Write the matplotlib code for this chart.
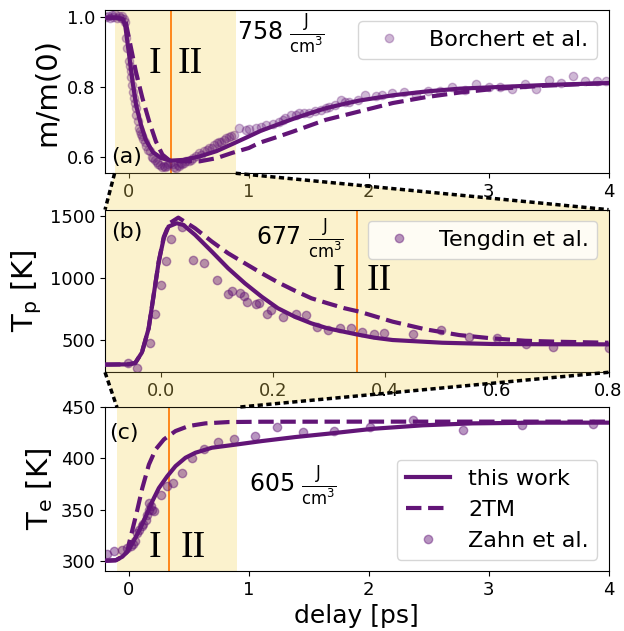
# Drei gekoppelte Panels: Magnetisierung, Phononen- und Elektronentemperatur
# gegen die Verzögerung, mit Zoom-Trichter vom oberen ins mittlere Panel.

import matplotlib
matplotlib.use("Agg")
import matplotlib.pyplot as plt  # noqa: E402
from matplotlib.lines import Line2D  # noqa: E402
from matplotlib.patches import Polygon  # noqa: E402
from matplotlib.transforms import blended_transform_factory  # noqa: E402


# region daten
# (a) m/m(0), Borchert et al.
t_borchert = [-0.19, -0.175, -0.16, -0.145, -0.13, -0.115, -0.1, -0.085, -0.07,
              -0.055, -0.04, -0.03, -0.027, -0.013, 0.001, 0.005, 0.015, 0.02,
              0.029, 0.035, 0.043, 0.05, 0.057, 0.062, 0.073, 0.084, 0.09, 0.1,
              0.11, 0.12, 0.13, 0.145, 0.16, 0.173, 0.19, 0.2, 0.218, 0.23,
              0.246, 0.26, 0.273, 0.29, 0.301, 0.315, 0.329, 0.345, 0.363, 0.375,
              0.39, 0.405, 0.418, 0.43, 0.446, 0.46, 0.479, 0.5, 0.515, 0.53,
              0.557, 0.586, 0.6, 0.627, 0.65, 0.669, 0.69, 0.711, 0.73, 0.753,
              0.77, 0.794, 0.81, 0.836, 0.85, 0.88, 0.92, 0.975, 1.0, 1.059, 1.1,
              1.142, 1.198, 1.25, 1.282, 1.3, 1.352, 1.39, 1.421, 1.46, 1.505,
              1.55, 1.602, 1.64, 1.672, 1.72, 1.769, 1.8, 1.839, 1.908, 1.972,
              2.062, 2.112, 2.195, 2.298, 2.396, 2.493, 2.591, 2.697, 2.8, 2.897,
              3.003, 3.098, 3.198, 3.301, 3.398, 3.504, 3.607, 3.704, 3.802, 3.9,
              3.983]
m_borchert = [1.0, 1.004, 0.998, 1.006, 1.0, 1.008, 0.997, 1.004, 0.998,
              1.003, 0.993, 0.985, 0.94, 0.912, 0.874, 0.86, 0.845, 0.83,
              0.807, 0.786, 0.769, 0.755, 0.741, 0.722, 0.703, 0.684, 0.675, 0.667,
              0.66, 0.653, 0.645, 0.634, 0.622, 0.617, 0.602, 0.598, 0.593, 0.588,
              0.581, 0.578, 0.573, 0.575, 0.572, 0.577, 0.581, 0.585, 0.58, 0.574,
              0.57, 0.578, 0.575, 0.583, 0.581, 0.585, 0.589, 0.59, 0.593, 0.598,
              0.603, 0.613, 0.606, 0.617, 0.62, 0.628, 0.627, 0.636, 0.64, 0.644,
              0.645, 0.65, 0.655, 0.657, 0.66, 0.663, 0.685, 0.679, 0.68, 0.684, 0.688,
              0.693, 0.696, 0.702, 0.707, 0.712, 0.722, 0.72, 0.728, 0.726, 0.728,
              0.733, 0.736, 0.742, 0.745, 0.75, 0.764, 0.757, 0.757, 0.764, 0.779,
              0.774, 0.777, 0.783, 0.785, 0.779, 0.788, 0.788, 0.802, 0.793, 0.81,
              0.8, 0.8, 0.795, 0.81, 0.795, 0.821, 0.812, 0.831, 0.817, 0.817,
              0.817]

t_fit_a = [-0.2, -0.1, -0.05, -0.03, 0.0, 0.03, 0.06, 0.1, 0.14, 0.2, 0.27, 0.35,
           0.45, 0.59, 0.73, 0.86, 1.0, 1.1, 1.25, 1.37, 1.5, 1.64, 1.8, 1.92,
           2.2, 2.48, 2.76, 3.04, 3.45, 4.0]
m_fit_a = [0.998, 0.998, 0.994, 0.972, 0.895, 0.815, 0.748, 0.693, 0.65, 0.615,
           0.598, 0.591, 0.593, 0.603, 0.618, 0.638, 0.66, 0.676, 0.695, 0.71,
           0.725, 0.74, 0.753, 0.762, 0.777, 0.788, 0.796, 0.8, 0.806, 0.812]

t_2tm_a = [-0.2, -0.1, -0.03, 0.0, 0.057, 0.112, 0.168, 0.224, 0.279, 0.34, 0.45,
           0.59, 0.73, 0.86, 1.0, 1.09, 1.25, 1.37, 1.64, 1.92, 2.2, 2.48, 2.76,
           3.04, 3.45, 4.0]
m_2tm_a = [0.998, 0.998, 0.99, 0.94, 0.845, 0.769, 0.703, 0.646, 0.608, 0.591,
           0.589, 0.589, 0.598, 0.613, 0.627, 0.642, 0.66, 0.674, 0.707, 0.731,
           0.755, 0.772, 0.785, 0.795, 0.804, 0.812]

# (b) T_p, Tengdin et al.
t_tengdin = [-0.059, -0.042, -0.019, -0.011, 0.0005, 0.009, 0.018, 0.038, 0.058,
             0.077, 0.1, 0.119, 0.127, 0.141, 0.148, 0.154, 0.17, 0.176, 0.189,
             0.196, 0.219, 0.241, 0.259, 0.279, 0.298, 0.32, 0.339, 0.359, 0.38,
             0.399, 0.45, 0.5, 0.55, 0.6, 0.652, 0.7, 0.8]
tp_tengdin = [317, 277, 478, 710, 943, 1137, 1317, 1409, 1143,
              1121, 981, 871, 898, 879, 855, 806, 790, 796, 712,
              742, 688, 712, 699, 605, 583, 599, 599, 565, 548,
              560, 547, 577, 527, 513, 468, 446, 433]

t_fit_b = [-0.1, -0.058, -0.046, -0.034, -0.022, -0.013, -0.004, 0.005, 0.0135,
           0.028, 0.04, 0.061, 0.091, 0.12, 0.15, 0.18, 0.209, 0.239, 0.269,
           0.298, 0.349, 0.381, 0.414, 0.503, 0.592, 0.68, 0.8]
tp_fit_b = [302, 304, 315, 400, 594, 863, 1131, 1320, 1414,
            1441, 1427, 1347, 1212, 1078, 957, 849, 756, 688, 634,
            594, 546, 519, 500, 478, 468, 466, 465]

t_2tm_b = [-0.1, -0.058, -0.046, -0.034, -0.022, -0.013, -0.004, 0.005, 0.015,
           0.031, 0.061, 0.091, 0.12, 0.15, 0.18, 0.209, 0.239, 0.269, 0.298,
           0.328, 0.355, 0.414, 0.473, 0.533, 0.592, 0.651, 0.711, 0.8]
tp_2tm_b = [302, 304, 315, 400, 594, 863, 1131, 1330, 1440,
            1486, 1400, 1293, 1199, 1118, 1038, 965, 898, 836, 796,
            756, 728, 648, 586, 540, 513, 494, 486, 478]

# (c) T_e, Zahn et al.
t_zahn = [-0.18, -0.124, -0.055, -0.02, 0.014, 0.03, 0.05, 0.07, 0.08, 0.111,
          0.12, 0.139, 0.15, 0.166, 0.17, 0.18, 0.19, 0.208, 0.263, 0.313, 0.369,
          0.443, 0.526, 0.623, 0.742, 0.88, 1.047, 1.232, 1.453, 1.711, 2.013,
          2.373, 2.788, 3.281, 3.868]
te_zahn = [306.9, 309.1, 310.8, 312, 314, 316, 318.9, 327.2, 330, 333.7,
           336, 340.2, 345, 350, 356, 353.9, 350, 348.4, 364.7, 373.5, 376.2,
           386, 400, 409.5, 416, 419.3, 421.9, 431, 426.2, 426.8, 431,
           437.5, 427.7, 432.3, 433.3]

t_fit_c = [-0.2, -0.11, -0.055, -0.013, 0.028, 0.083, 0.139, 0.194, 0.249, 0.319,
           0.388, 0.471, 0.554, 0.692, 0.9, 1.108, 1.385, 1.661, 2.035, 2.45,
           2.865, 3.42, 4.0]
te_fit_c = [300, 300.5, 304, 309, 317, 329, 343, 358, 371, 382.6,
            392.5, 400.7, 405.6, 410.5, 413.7, 417, 420.9, 424.2, 429, 432.4,
            434.3, 435, 435]

t_2tm_c = [-0.2, -0.11, -0.055, -0.013, 0.0, 0.028, 0.07, 0.111, 0.166, 0.222,
           0.291, 0.388, 0.498, 0.637, 0.831, 1.108, 2.0, 3.0, 4.0]
te_2tm_c = [300, 300.5, 304, 309, 317, 330, 350, 371, 394, 408.8,
            418.6, 426.8, 431.7, 434.3, 435.6, 435.9, 436, 436, 436]
# endregion


LILA = "#621577"
GELB = "#f5d55a"
GELB_ALPHA = 0.3
ORANGE = "tab:orange"

fig = plt.figure(figsize=(6.24, 6.31), dpi=100)
ax_a = fig.add_axes([0.1683, 0.7254, 0.8069, 0.2588])
ax_b = fig.add_axes([0.1683, 0.4100, 0.8069, 0.2577])
ax_c = fig.add_axes([0.1683, 0.0951, 0.8069, 0.2594])

span_a = (-0.12, 0.89)
span_c = (-0.10, 0.90)
grenze = {"a": 0.35, "b": 0.35, "c": 0.33}


def roemisch(ax, x1, x2, y):
    ax.text(x1, y, "I", fontsize=27, family="Liberation Serif",
            ha="center", va="center")
    ax.text(x2, y, "II", fontsize=27, family="Liberation Serif",
            ha="center", va="center")


# region panel a
ax = ax_a
ax.axvspan(*span_a, color=GELB, alpha=GELB_ALPHA, lw=0, zorder=0)
ax.axvline(grenze["a"], color=ORANGE, lw=1.3, zorder=1)
pkt_a, = ax.plot(t_borchert, m_borchert, "o", color=LILA, alpha=0.3, ms=6,
                 label="Borchert et al.", zorder=2)
ax.plot(t_fit_a, m_fit_a, "-", color=LILA, lw=3, zorder=3)
ax.plot(t_2tm_a, m_2tm_a, "--", color=LILA, lw=3, zorder=3)
roemisch(ax, 0.22, 0.51, 0.867)
ax.text(0.9, 0.955, r"758 $\frac{\mathrm{J}}{\mathrm{cm}^3}$", fontsize=17,
        ha="left", va="center")
ax.text(0.012, 0.1, "(a)", transform=ax.transAxes, fontsize=16,
        ha="left", va="center")
ax.set_xlim(-0.2, 4)
ax.set_ylim(0.555, 1.02)
ax.set_xticks([0, 1, 2, 3, 4])
ax.set_yticks([0.6, 0.8, 1.0])
ax.set_ylabel("m/m(0)", fontsize=21)
ax.legend(handles=[pkt_a], loc="upper right", fontsize=16)
# endregion

# region panel b
ax = ax_b
ax.axvspan(-0.1, 0.8, color=GELB, alpha=GELB_ALPHA, lw=0, zorder=0)
ax.axvline(grenze["b"], color=ORANGE, lw=1.3, zorder=1)
pkt_b, = ax.plot(t_tengdin, tp_tengdin, "o", color=LILA, alpha=0.45, ms=6,
                 label="Tengdin et al.", zorder=2)
ax.plot(t_fit_b, tp_fit_b, "-", color=LILA, lw=3, zorder=3)
ax.plot(t_2tm_b, tp_2tm_b, "--", color=LILA, lw=3, zorder=3)
roemisch(ax, 0.319, 0.39, 980)
ax.text(0.17, 1325, r"677 $\frac{\mathrm{J}}{\mathrm{cm}^3}$", fontsize=17,
        ha="left", va="center")
ax.text(0.012, 0.86, "(b)", transform=ax.transAxes, fontsize=16,
        ha="left", va="center")
ax.set_xlim(-0.1, 0.8)
ax.set_ylim(240, 1550)
ax.set_xticks([0.0, 0.2, 0.4, 0.6, 0.8])
ax.set_yticks([500, 1000, 1500])
ax.set_ylabel(r"T$_\mathrm{p}$ [K]", fontsize=21)
ax.legend(handles=[pkt_b], loc="upper right", fontsize=16)
# endregion

# region panel c
ax = ax_c
ax.axvspan(*span_c, color=GELB, alpha=GELB_ALPHA, lw=0, zorder=0)
ax.axvline(grenze["c"], color=ORANGE, lw=1.3, zorder=1)
pkt_c, = ax.plot(t_zahn, te_zahn, "o", color=LILA, alpha=0.45, ms=6,
                 label="Zahn et al.", zorder=2)
lin_fit, = ax.plot(t_fit_c, te_fit_c, "-", color=LILA, lw=3, zorder=3,
                   label="this work")
lin_2tm, = ax.plot(t_2tm_c, te_2tm_c, "--", color=LILA, lw=3, zorder=3,
                   label="2TM")
roemisch(ax, 0.216, 0.54, 313)
ax.text(1.0, 374.5, r"605 $\frac{\mathrm{J}}{\mathrm{cm}^3}$", fontsize=17,
        ha="left", va="center")
ax.text(0.008, 0.84, "(c)", transform=ax.transAxes, fontsize=16,
        ha="left", va="center")
ax.set_xlim(-0.2, 4)
ax.set_ylim(290, 450)
ax.set_xticks([0, 1, 2, 3, 4])
ax.set_yticks([300, 350, 400, 450])
ax.set_ylabel(r"T$_\mathrm{e}$ [K]", fontsize=21)
ax.set_xlabel("delay [ps]", fontsize=18)
ax.legend(handles=[lin_fit, lin_2tm, pkt_c], loc="lower right", fontsize=16)
# endregion

for a in (ax_a, ax_b, ax_c):
    a.tick_params(labelsize=13)


# region zoom-trichter
def fig_punkt(ax, x, y):
    """x in Daten-, y in Achsenkoordinaten -> Figurenkoordinaten."""
    tr = blended_transform_factory(ax.transData, ax.transAxes)
    return fig.transFigure.inverted().transform(tr.transform((x, y)))


def trichter(oben, unten, x_oben, x_unten, y_oben, y_unten):
    p = [fig_punkt(oben, x_oben[0], y_oben), fig_punkt(oben, x_oben[1], y_oben),
         fig_punkt(unten, x_unten[1], y_unten),
         fig_punkt(unten, x_unten[0], y_unten)]
    fig.add_artist(Polygon(p, closed=True, transform=fig.transFigure,
                           facecolor=GELB, alpha=GELB_ALPHA, edgecolor="none"))
    for a, b in ((p[0], p[3]), (p[1], p[2])):
        fig.add_artist(Line2D([a[0], b[0]], [a[1], b[1]],
                              transform=fig.transFigure, color="black",
                              lw=2.5, ls=(0, (1.5, 1.0))))


trichter(ax_a, ax_b, span_a, (-0.1, 0.8), 0, 1)
trichter(ax_b, ax_c, (-0.1, 0.8), span_c, 0, 1)
# endregion

fig.savefig("out.png", dpi=100)
